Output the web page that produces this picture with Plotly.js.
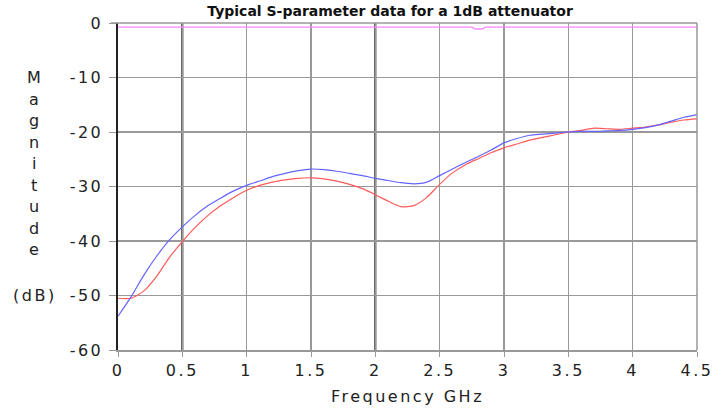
<!DOCTYPE html>
<html><head><meta charset="utf-8">
<script src="https://cdn.plot.ly/plotly-3.0.1.min.js"></script>
<style>
html,body{margin:0;padding:0;background:#fff}
#c{width:721px;height:408px}
text{letter-spacing:2.5px}
.gtitle{letter-spacing:0px}
</style>
</head><body><div id="c"></div>
<script>
var freq = [0,0.1,0.2,0.3,0.4,0.5,0.6,0.7,0.8,0.9,1.0,1.1,1.2,1.3,1.4,1.5,1.6,1.7,1.8,1.9,2.0,2.1,2.2,2.3,2.4,2.5,2.6,2.7,2.8,2.9,3.0,3.1,3.2,3.3,3.4,3.5,3.6,3.7,3.8,3.9,4.0,4.1,4.2,4.3,4.4,4.5];
var blueS = [-53.8,-50.3,-46.3,-42.8,-39.8,-37.4,-35.3,-33.5,-32.1,-30.8,-29.8,-29.0,-28.2,-27.6,-27.1,-26.8,-26.9,-27.2,-27.6,-28.0,-28.5,-28.9,-29.3,-29.5,-29.2,-28.0,-26.8,-25.6,-24.5,-23.3,-22.0,-21.2,-20.6,-20.4,-20.2,-20.0,-19.9,-19.9,-19.8,-19.7,-19.5,-19.2,-18.7,-18.0,-17.3,-16.8];
var redS = [-50.5,-50.5,-49.2,-46.5,-43.0,-40.1,-37.5,-35.3,-33.5,-32.0,-30.7,-29.8,-29.2,-28.8,-28.5,-28.4,-28.6,-29.0,-29.6,-30.4,-31.5,-32.7,-33.7,-33.5,-32.0,-29.6,-27.5,-26.0,-24.9,-23.8,-22.9,-22.2,-21.5,-21.0,-20.5,-20.0,-19.7,-19.3,-19.4,-19.5,-19.3,-19.1,-18.7,-18.2,-17.8,-17.6];
var pinkX = [0,0.5,1.0,1.5,2.0,2.5,2.75,2.78,2.83,2.86,3.0,3.5,4.0,4.5];
var pinkS = [-0.75,-0.75,-0.75,-0.75,-0.75,-0.75,-0.75,-1.1,-1.1,-0.75,-0.75,-0.75,-0.75,-0.75];
var xTicks = [0,0.5,1,1.5,2,2.5,3,3.5,4,4.5];
var xTickText = ['0','0.5','1','1.5','2','2.5','3','3.5','4','4.5'];
var yTicks = [0,-10,-20,-30,-40,-50,-60];
var yTickText = ['0','-10','-20','-30','-40','-50','-60'];
var darkGrid = [0.5,2];
var titleText = 'Typical S-parameter data for a 1dB attenuator';
var yLetters = ['M','a','g','n','i','t','u','d','e'];

var FONT = 'DejaVu Sans, sans-serif';
var traces = [
  {x: pinkX, y: pinkS, mode:'lines', line:{color:'#ff88ff', width:1.3}, hoverinfo:'skip'},
  {x: freq, y: redS, mode:'lines', line:{color:'#ff5a5a', width:1.2, shape:'spline', smoothing:0.6}},
  {x: freq, y: blueS, mode:'lines', line:{color:'#6464ff', width:1.2, shape:'spline', smoothing:0.6}}
];
var shapes = darkGrid.map(function(v){return {type:'line', xref:'x', yref:'paper', x0:v, x1:v, y0:0, y1:1, line:{color:'#222', width:2}, layer:'below'};});
shapes.push({type:'line', xref:'paper', yref:'paper', x0:-0.012, x1:1, y0:1, y1:1, line:{color:'#999', width:1.5}});
shapes.push({type:'line', xref:'paper', yref:'paper', x0:1, x1:1, y0:0, y1:1, line:{color:'#999', width:1.5}});
var annotations = yLetters.map(function(ch, i){
  return {text:ch, xref:'paper', yref:'paper', x:-0.1425, y:0.832 - i*0.0657, xanchor:'center', yanchor:'middle', showarrow:false, font:{size:16, color:'#222', family:FONT}};
});
annotations.push({text:'(dB)', xref:'paper', yref:'y', x:-0.1425, y:-50, xanchor:'center', yanchor:'middle', showarrow:false, font:{size:16, color:'#222', family:FONT}});
var layout = {
  width:721, height:408, showlegend:false,
  margin:{l:118, r:24, t:23, b:58},
  paper_bgcolor:'#fff', plot_bgcolor:'#fff',
  font:{family:FONT, color:'#222', size:16},
  title:{text:'<b>'+titleText+'</b>', font:{size:14, color:'#111', family:FONT}, x:0.541, xanchor:'center', y:0.972, yanchor:'middle'},
  xaxis:{range:[0,4.5], tickvals:xTicks, ticktext:xTickText, showgrid:true, gridcolor:'#999', gridwidth:1.5,
    zeroline:false, showline:true, linecolor:'#999', linewidth:1.5, ticks:'outside', ticklen:5, tickcolor:'#999',
    tickfont:{size:16, color:'#222', family:FONT}, title:{text:'Frequency GHz', font:{size:16, color:'#222', family:FONT}, standoff:12}},
  yaxis:{range:[-60,0], tickvals:yTicks, ticktext:yTickText, showgrid:true, gridcolor:'#999', gridwidth:1.5,
    zeroline:false, showline:true, linecolor:'#222', linewidth:2.5, ticks:'outside', ticklen:7, tickcolor:'#999',
    ticklabelstandoff:2, tickfont:{size:16, color:'#222', family:FONT}},
  shapes: shapes,
  annotations: annotations
};
Plotly.newPlot('c', traces, layout, {staticPlot:true});
</script></body></html>
